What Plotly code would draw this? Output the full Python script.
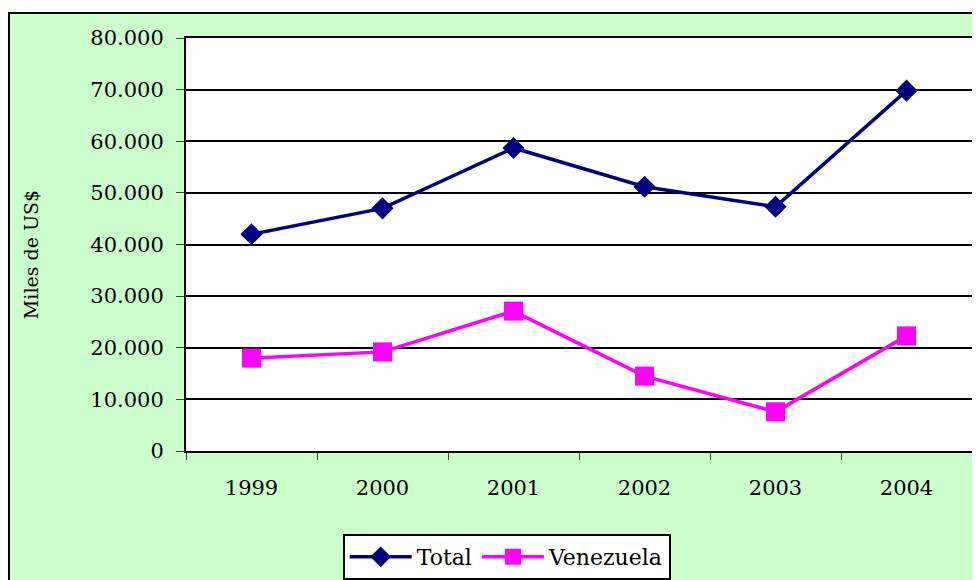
import plotly.graph_objects as go

# datos
years = ["1999", "2000", "2001", "2002", "2003", "2004"]
total = [42000, 47000, 58700, 51200, 47300, 69800]
venezuela = [18000, 19200, 27100, 14500, 7600, 22300]
y_ticks = [0, 10000, 20000, 30000, 40000, 50000, 60000, 70000, 80000]

fig = go.Figure()

fig.add_trace(go.Scatter(
    x=years, y=total, name="Total", mode="lines+markers",
    line=dict(color="#000080", width=3.5),
    marker=dict(symbol="diamond", size=17, color="#000080")
))
fig.add_trace(go.Scatter(
    x=years, y=venezuela, name="Venezuela", mode="lines+markers",
    line=dict(color="#FF00FF", width=3.5),
    marker=dict(symbol="square", size=19, color="#FF00FF")
))

font_family = "DejaVu Serif"

fig.update_layout(
    width=972, height=572,
    margin=dict(l=178, r=8, t=30, b=129, autoexpand=False),
    paper_bgcolor="#CCFFCC",
    plot_bgcolor="white",
    separators=",.",
    font=dict(family=font_family, size=21, color="black"),
    showlegend=True,
    legend=dict(
        orientation="h", x=0.408, xanchor="center", y=-0.201, yanchor="top",
        bgcolor="white", bordercolor="black", borderwidth=2,
        font=dict(size=22), tracegroupgap=0, itemwidth=62
    ),
    shapes=[
        # franja blanca superior
        dict(type="rect", xref="paper", yref="paper", x0=-0.3, x1=1.1,
             y0=1 + 25 / 413, y1=1.2, fillcolor="white", line_width=0, layer="below"),
        # marco exterior
        dict(type="rect", xref="paper", yref="paper", x0=-177 / 786, x1=1.05,
             y0=-0.4, y1=1 + 25 / 413, line=dict(color="black", width=2),
             fillcolor="rgba(0,0,0,0)", layer="above"),
    ],
    annotations=[
        dict(text="Miles de US$", xref="paper", yref="paper", x=-0.197, y=0.4746,
             textangle=-90, showarrow=False, font=dict(size=19),
             xanchor="center", yanchor="middle")
    ],
)

fig.update_xaxes(
    type="category", range=[-0.5, 5.5], tickson="boundaries",
    ticks="outside", ticklen=7,
    tickcolor="#444", showline=True, linecolor="black", linewidth=2,
    mirror=True, showgrid=False, tickfont=dict(size=21),
    ticklabelstandoff=17
)
fig.update_yaxes(
    range=[0, 80000], tickvals=y_ticks, tickformat=",d",
    ticks="outside", ticklen=8, tickcolor="#444",
    showline=True, linecolor="black", linewidth=2, mirror=True,
    showgrid=True, gridcolor="black", gridwidth=1.5, zeroline=False,
    tickfont=dict(size=21), ticklabelstandoff=8
)

fig.write_html("out.html")
